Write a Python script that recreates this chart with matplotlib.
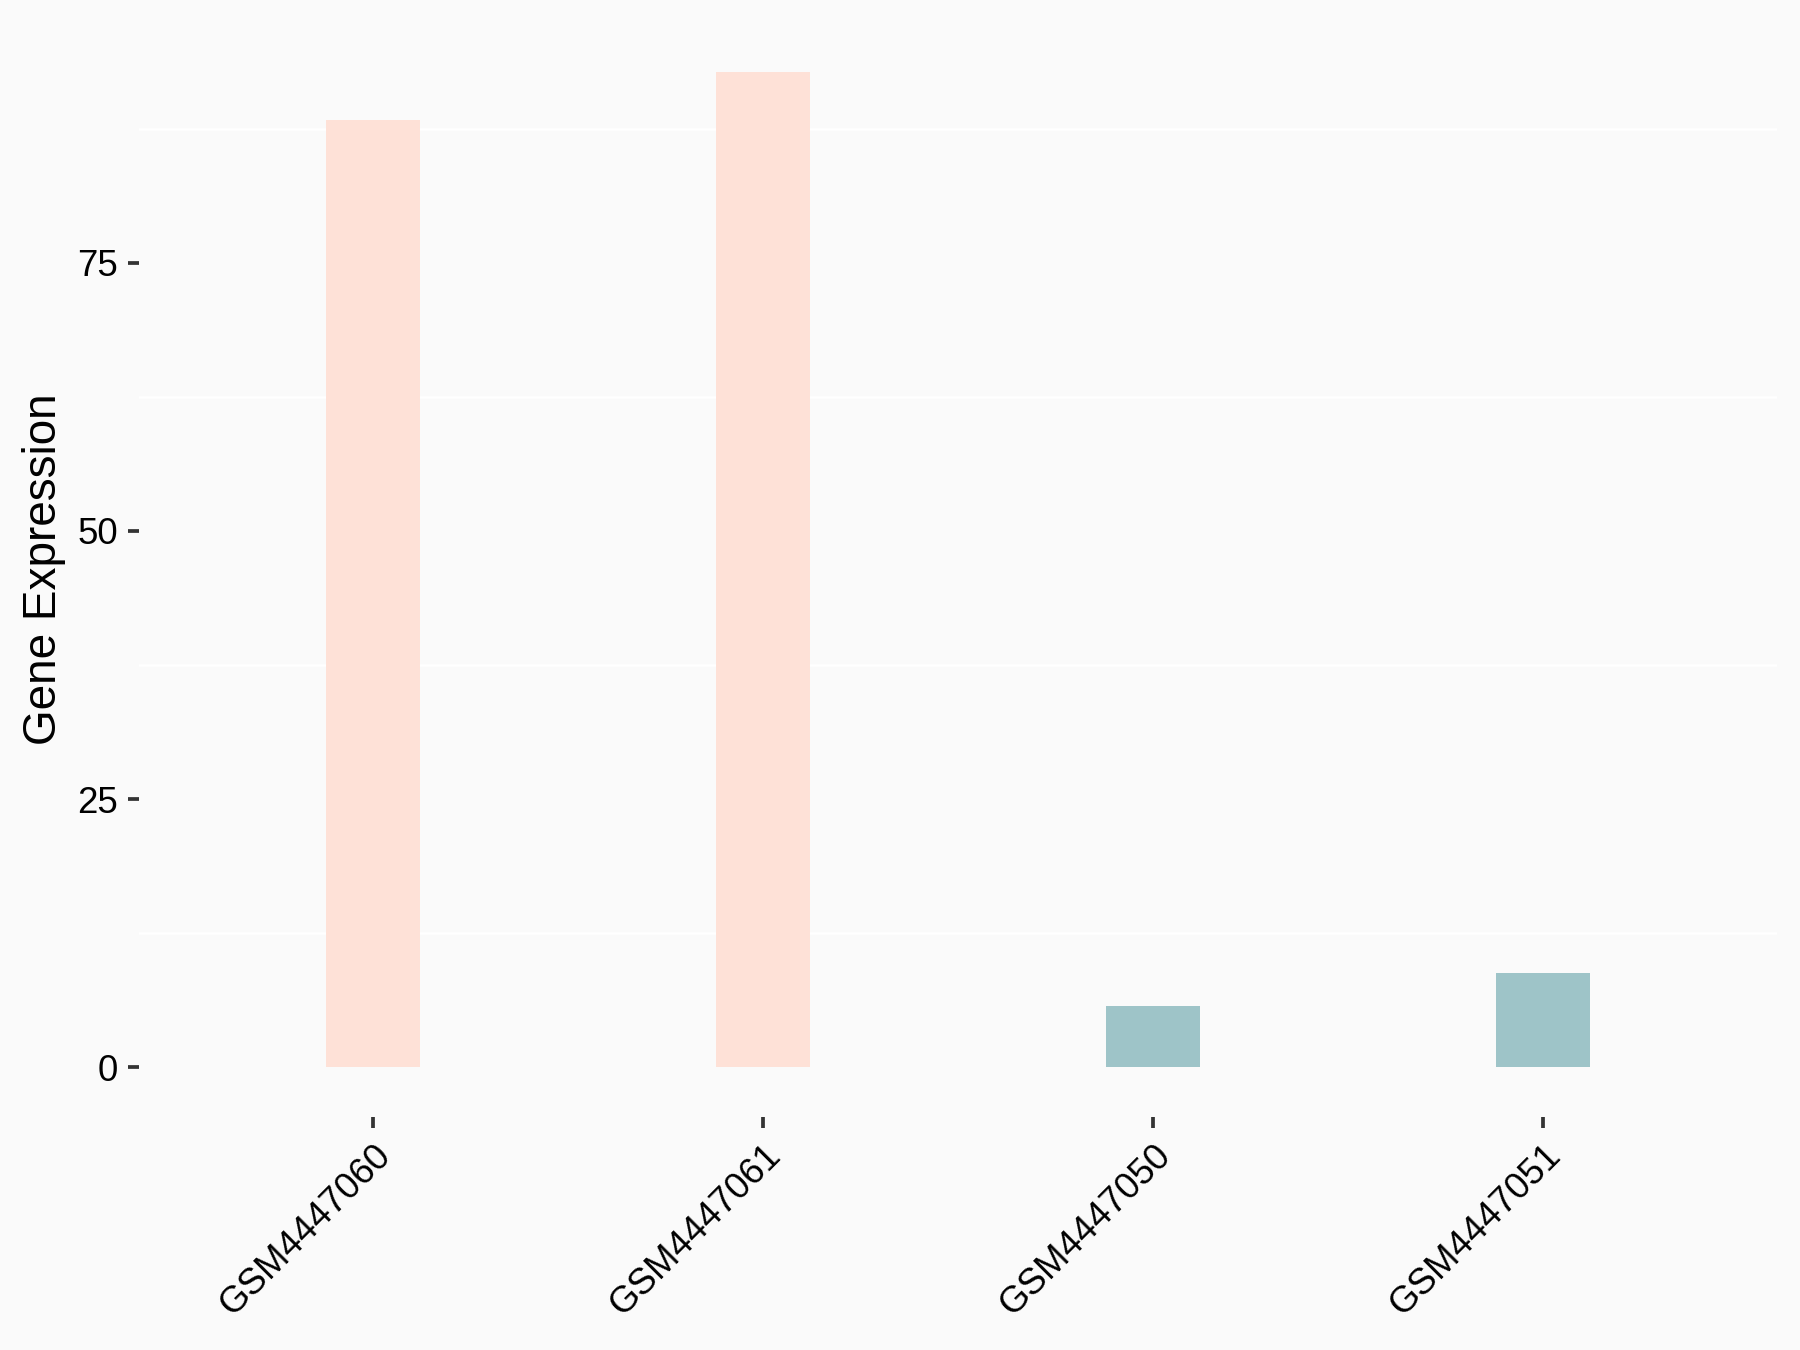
import matplotlib
matplotlib.use("Agg")
import matplotlib.pyplot as plt
import numpy as np

samples = ["GSM4447060", "GSM4447061", "GSM4447050", "GSM4447051"]
expression = [88.3, 92.8, 5.7, 8.75]
groups = ["high", "high", "low", "low"]
group_colors = {"high": "#FEE1D7", "low": "#9EC4C8"}
y_ticks = [0, 25, 50, 75]
minor_grid = [12.5, 37.5, 62.5, 87.5]

plt.rcParams['font.family'] = ['Liberation Sans', 'DejaVu Sans']
bg = "#FAFAFA"
fig = plt.figure(figsize=(6, 4.5), dpi=300, facecolor=bg)
ax = fig.add_axes([139/1800, 1 - 1117/1350, (1777 - 139)/1800, (1117 - 22)/1350])
ax.set_facecolor(bg)

x = np.arange(1, len(samples) + 1)
ax.bar(x, expression, width=0.24, color=[group_colors[g] for g in groups], zorder=2)

ymax = max(expression)
ax.set_ylim(-0.05 * ymax, 1.05 * ymax)
ax.set_xlim(0.4, len(samples) + 0.6)

for g in minor_grid:
    ax.axhline(g, color="white", lw=0.6, zorder=1)

ax.set_yticks(y_ticks)
ax.set_yticklabels([str(t) for t in y_ticks])
ax.set_xticks(x)
ax.set_xticklabels(samples, rotation=45, ha="right", va="top", rotation_mode="anchor")

for s in ax.spines.values():
    s.set_visible(False)

ax.tick_params(axis="both", direction="out", length=2.7, width=0.9, color="#333333",
               labelsize=8.8, labelcolor="black", pad=2.4)
ax.set_ylabel("Gene Expression", fontsize=11, labelpad=2.7)

fig.savefig("out.png", dpi=300, facecolor=bg)
